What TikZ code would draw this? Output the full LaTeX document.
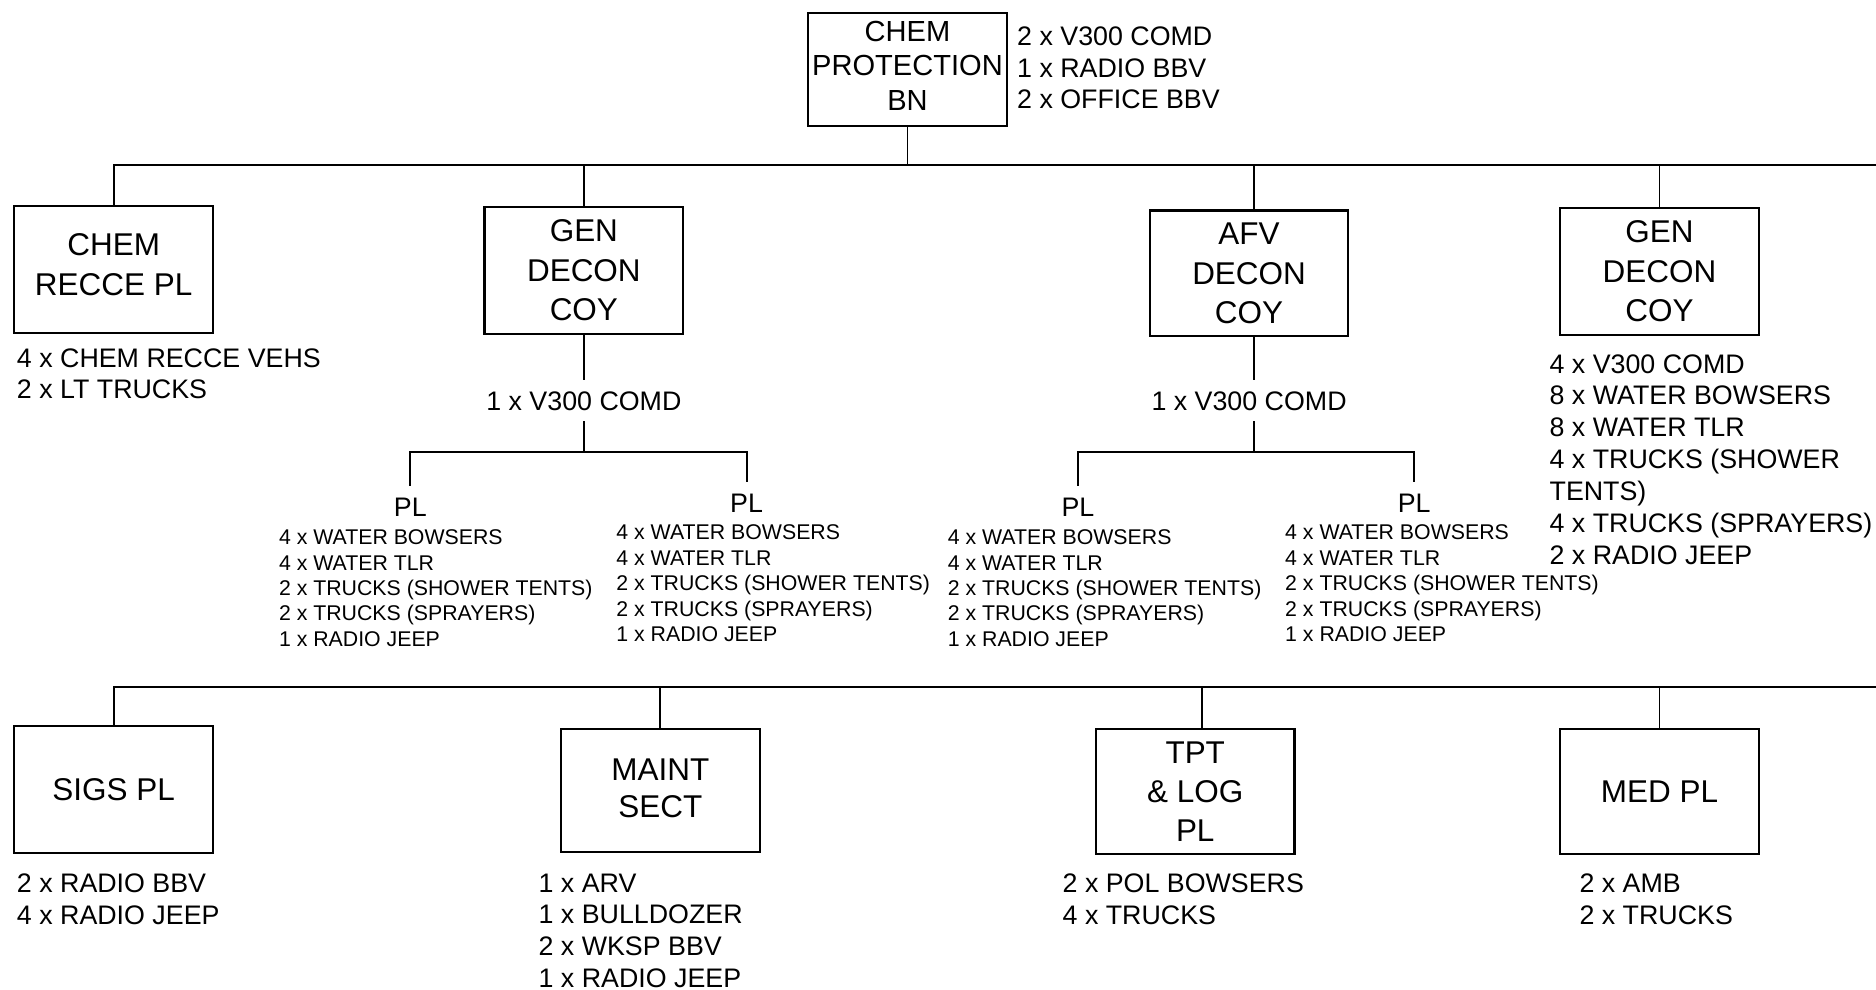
\documentclass[tikz,border=0pt]{standalone}
\usepackage{fontspec}
\setmainfont{Liberation Sans}
\newcommand\ubfont{\fontsize{26.3pt}{33pt}\selectfont}
\newcommand\ubbfont{\fontsize{26.3pt}{31pt}\selectfont}
\newcommand\ubcfont{\fontsize{26.3pt}{32.5pt}\selectfont}
\newcommand\utopfont{\fontsize{24.3pt}{29pt}\selectfont}
\newcommand\ulistfont{\fontsize{22.4pt}{26.6pt}\selectfont}
\newcommand\uplfont{\fontsize{17.8pt}{21.3pt}\selectfont}
\tikzset{
  unitbox/.style={draw, line width=1.8pt, minimum width=166pt, minimum height=106pt, inner sep=0pt, align=center, font=\ubfont},
  eqlist/.style={anchor=north west, inner sep=0pt, align=left, font=\ulistfont},
  pllist/.style={anchor=north west, inner sep=0pt, align=left, font=\uplfont},
  plhead/.style={inner sep=10pt, font=\ulistfont},
  comd/.style={inner sep=9pt, font=\ulistfont},
  link/.style={line width=1.6pt},
}
\begin{document}
\begin{tikzpicture}[x=1pt,y=-1pt]
\useasboundingbox (0,0) rectangle (1568,827);

% top
\node[unitbox, minimum height=94pt, font=\utopfont] (bn) at (758.5,58) {CHEM\\PROTECTION\\BN\\[-23pt]\mbox{}};
\node[eqlist] (bnl) at (850,22) {2 x V300 COMD\\1 x RADIO BBV\\2 x OFFICE BBV};

% first row
\node[unitbox] (recce) at (95,225) {CHEM\\RECCE PL\\[-25pt]\mbox{}};
\node[eqlist] (recl) at (14,291) {4 x CHEM RECCE VEHS\\2 x LT TRUCKS};

\node[unitbox] (gen1) at (488,226) {GEN\\DECON\\COY};
\node[comd] (g1c) at (488,335) {1 x V300 COMD};
\node[plhead] (g1a) at (343,424) {PL};
\node[pllist] (g1al) at (233,442.5) {4 x WATER BOWSERS\\4 x WATER TLR\\2 x TRUCKS (SHOWER TENTS)\\2 x TRUCKS (SPRAYERS)\\1 x RADIO JEEP};
\node[plhead] (g1b) at (624,421) {PL};
\node[pllist] (g1bl) at (515,438.5) {4 x WATER BOWSERS\\4 x WATER TLR\\2 x TRUCKS (SHOWER TENTS)\\2 x TRUCKS (SPRAYERS)\\1 x RADIO JEEP};

\node[unitbox, minimum height=105pt] (afv) at (1044,228.5) {AFV\\DECON\\COY};
\coordinate (ax) at (1048,0);
\node[comd] (ac) at (1044,335) {1 x V300 COMD};
\node[plhead] (aa) at (901,424) {PL};
\node[pllist] (aal) at (792,442.5) {4 x WATER BOWSERS\\4 x WATER TLR\\2 x TRUCKS (SHOWER TENTS)\\2 x TRUCKS (SPRAYERS)\\1 x RADIO JEEP};
\node[plhead] (ab) at (1182,421) {PL};
\node[pllist] (abl) at (1074,438.5) {4 x WATER BOWSERS\\4 x WATER TLR\\2 x TRUCKS (SHOWER TENTS)\\2 x TRUCKS (SPRAYERS)\\1 x RADIO JEEP};

\node[unitbox] (gen2) at (1387,227) {GEN\\DECON\\COY};
\node[eqlist] (g2l) at (1295,296) {4 x V300 COMD\\8 x WATER BOWSERS\\8 x WATER TLR\\4 x TRUCKS (SHOWER\\TENTS)\\4 x TRUCKS (SPRAYERS)\\2 x RADIO JEEP};

% second row
\node[unitbox] (sigs) at (95,660) {SIGS PL};
\node[eqlist] (sigl) at (14,730) {2 x RADIO BBV\\4 x RADIO JEEP};
\node[unitbox, minimum height=103pt, font=\ubbfont] (maint) at (552,660.5) {MAINT\\SECT\\[-27pt]\mbox{}};
\node[eqlist] (mainl) at (450,730) {1 x ARV\\1 x BULLDOZER\\2 x WKSP BBV\\1 x RADIO JEEP};
\node[unitbox, minimum height=105pt, font=\ubcfont] (tpt) at (999,661.5) {TPT\\\& LOG\\PL};
\coordinate (tx) at (1005,0);
\node[eqlist] (tptl) at (888,730) {2 x POL BOWSERS\\4 x TRUCKS};
\node[unitbox, minimum height=105pt] (med) at (1387,661.5) {MED PL};
\node[eqlist] (medl) at (1320,730) {2 x AMB\\2 x TRUCKS};

% buses
\coordinate (b1l) at (95,138);
\coordinate (b1r) at (1568,138);
\coordinate (b2l) at (95,574);
\coordinate (b2r) at (1568,574);
\coordinate (sy) at (0,378);

\draw[link] (bn.south) -- (bn.south |- b1l);
\draw[link] (recce.north) -- (b1l) -- (b1r);
\draw[link] (gen1.north |- b1l) -- (gen1.north);
\draw[link] (ax |- b1l) -- (ax |- afv.north);
\draw[link] (gen2.north |- b1l) -- (gen2.north);

\draw[link] (gen1.south) -- (g1c.north);
\draw[link] (g1c.south) -- (g1c.south |- sy);
\draw[link] (g1a.north) -- (g1a.north |- sy) -- (g1b.north |- sy) -- (g1b.north);

\draw[link] (ax |- afv.south) -- (ax |- ac.north);
\draw[link] (ax |- ac.south) -- (ax |- sy);
\draw[link] (aa.north) -- (aa.north |- sy) -- (ab.north |- sy) -- (ab.north);

\draw[link] (sigs.north) -- (b2l) -- (b2r);
\draw[link] (maint.north |- b2l) -- (maint.north);
\draw[link] (tx |- b2l) -- (tx |- tpt.north);
\draw[link] (med.north |- b2l) -- (med.north);
\end{tikzpicture}
\end{document}
